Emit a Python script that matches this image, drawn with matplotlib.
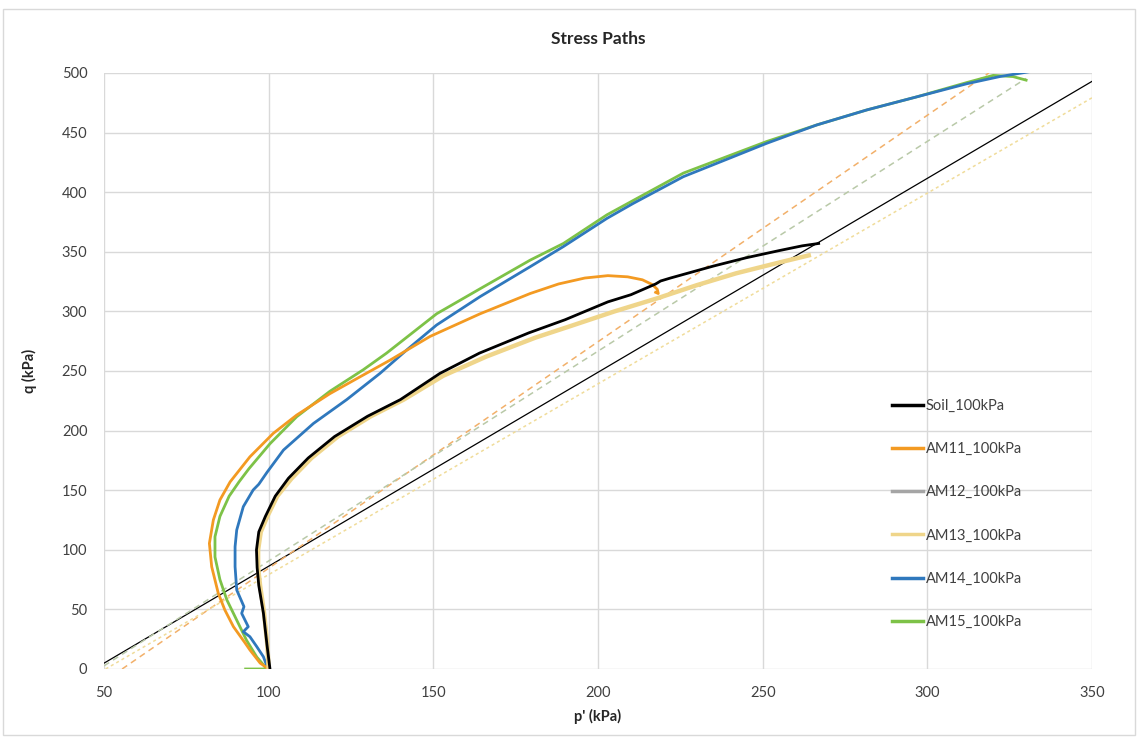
import numpy as np
import matplotlib
matplotlib.use("Agg")
import matplotlib.pyplot as plt
from matplotlib.patches import Rectangle

plt.rcParams['font.family'] = ['Lato', 'DejaVu Sans']

# stress paths: p' (kPa), q (kPa)
soil_p = [100.4, 99.5, 98.4, 97.0, 96.5, 96.3, 97.0, 99.0, 102.0, 106.0, 112.0, 120.0,
          130.0, 140.0, 152.0, 164.0, 179.0, 190.0, 203.0, 210.0, 217.5, 219.0, 222.0,
          235.0, 245.0, 255.0, 262.0, 267.0]
soil_q = [0, 20, 47, 70, 85, 100, 115, 128, 145, 160, 177, 195,
          212, 226, 248, 265, 282, 293, 308, 314, 323, 325.5, 328,
          338, 345, 351, 355, 357]

am11_p = [100.0, 97.4, 94.3, 92.8, 89.3, 86.7, 84.7, 82.7, 82.0, 83.2, 85.2, 88.3,
          94.3, 101.4, 108.5, 118.6, 128.7, 136.8, 149.0, 164.2, 179.4, 188.0, 196.0,
          203.0, 209.0, 213.5, 216.5, 218.0, 218.3, 217.5]
am11_q = [0, 5, 16, 22, 35.5, 49.5, 63.5, 85.8, 105.4, 125, 141.8, 157,
          178, 197.7, 213, 231, 246.6, 259, 279, 298, 315, 323, 328,
          330, 329, 326.5, 322.5, 318.5, 315, 316]

am12_p = []
am12_q = []

am13_p = [100.0, 99.6, 98.6, 97.4, 96.8, 96.8, 97.6, 99.6, 102.6, 107.0, 113.0, 121.0,
          131.0, 141.0, 153.0, 166.0, 181.0, 192.0, 205.0, 218.0, 230.0, 242.0, 255.0, 264.0]
am13_q = [0, 20, 47, 70, 85, 100, 115, 128, 145, 160, 177, 195,
          212, 226, 246, 262, 278, 288, 300, 311, 322, 332, 341, 347]

am14_p = [99.8, 98.4, 96.4, 94.3, 92.3, 93.8, 91.8, 92.5, 90.3, 89.8, 89.8, 90.3, 92.3,
          95.3, 97.0, 99.5, 104.5, 113.6, 123.7, 133.8, 141.9, 151.0, 164.2, 179.4,
          189.5, 202.7, 210.7, 225.9, 241.1, 251.2, 266.4, 281.6, 296.8, 312.0, 322.0, 333.0]
am14_q = [0, 10.3, 18.7, 27.1, 31.3, 35.5, 46.7, 52.3, 66.3, 85.8, 102.6, 116.6, 136.2,
          150.2, 155, 165, 183.7, 206, 226, 248, 267.6, 288.6, 312.4, 337.5,
          354.4, 378, 390.6, 413, 429.8, 441, 456.4, 469, 480, 491, 497, 502]

am15_p = [93.0, 99.5, 96.4, 93.3, 90.3, 87.3, 85.2, 83.7, 83.7, 85.2, 88.0, 91.0, 94.0,
          100.4, 108.5, 118.6, 128.7, 135.8, 151.0, 164.2, 179.4, 189.5, 202.7, 225.9,
          251.2, 266.4, 281.6, 296.8, 312.0, 320.0, 326.0, 330.0]
am15_q = [0, 0, 10, 24, 41, 58, 75, 94, 111, 128, 145, 157, 168,
          189, 211.6, 233, 251, 265, 298, 319, 343, 357, 381, 416,
          442.5, 456.4, 469, 480, 492, 498, 497, 494]

# critical state lines: q = M (p - p0)
csl_p = [50, 350]
csl_soil = [1.627 * (p - 47.0) for p in csl_p]
csl_am11_p = [55.5, 318.7]
csl_am11 = [1.90 * (p - 55.5) for p in csl_am11_p]
csl_am15_p = [50, 330]
csl_am15 = [1.76 * (p - 48.5) for p in csl_am15_p]
csl_am13_p = [50.5, 350]
csl_am13 = [1.60 * (p - 50.5) for p in csl_am13_p]

fig = plt.figure(figsize=(11.38, 7.44), dpi=100)
ax = fig.add_axes([104 / 1138, 1 - 669 / 744, 988 / 1138, 596 / 744])

fig.add_artist(Rectangle((3 / 1138, 9 / 744), 1132 / 1138, 726 / 744,
                         transform=fig.transFigure, fill=False,
                         edgecolor='#D9D9D9', linewidth=1))

ax.plot(csl_p, csl_soil, color='black', lw=0.9, zorder=2)
ax.plot(csl_am11_p, csl_am11, color='#F2B06A', lw=1.1, ls=(0, (4, 3)), zorder=2)
ax.plot(csl_am15_p, csl_am15, color='#B9C9A8', lw=1.1, ls=(0, (4, 3)), zorder=2)
ax.plot(csl_am13_p, csl_am13, color='#F0DC9A', lw=1.1, ls=(0, (2, 2)), zorder=2)

ax.plot(am15_p, am15_q, color='#7DC247', lw=2.0, label='AM15_100kPa', zorder=3)
ax.plot(am14_p, am14_q, color='#2F78BD', lw=2.0, label='AM14_100kPa', zorder=4)
ax.plot(am11_p, am11_q, color='#F39A22', lw=2.0, label='AM11_100kPa', zorder=5)
ax.plot(am12_p, am12_q, color='#A5A5A5', lw=2.0, label='AM12_100kPa', zorder=5)
ax.plot(am13_p, am13_q, color='#EFD58A', lw=3.2, label='AM13_100kPa', zorder=5)
ax.plot(soil_p, soil_q, color='black', lw=2.0, label='Soil_100kPa', zorder=6)

ax.set_xlim(50, 350)
ax.set_ylim(0, 500)
ax.set_xticks(np.arange(50, 351, 50))
ax.set_yticks(np.arange(0, 501, 50))
ax.grid(True, color='#D9D9D9', lw=1)
ax.set_axisbelow(True)
for s in ax.spines.values():
    s.set_visible(False)
ax.tick_params(length=0, labelsize=10.5, colors='#404040', pad=12)

ax.set_title('Stress Paths', fontsize=12.5, fontweight='bold', color='#262626', pad=21)
ax.set_xlabel("p' (kPa)", fontsize=10.5, fontweight='bold', color='#262626', labelpad=7)
ax.set_ylabel('q (kPa)', fontsize=10.5, fontweight='bold', color='#262626', labelpad=18)

handles, labels = ax.get_legend_handles_labels()
order = ['Soil_100kPa', 'AM11_100kPa', 'AM12_100kPa', 'AM13_100kPa', 'AM14_100kPa', 'AM15_100kPa']
hmap = dict(zip(labels, handles))
leg = ax.legend([hmap[k] for k in order], order, loc='upper left',
                bbox_to_anchor=((892 - 104) / 988, (669 - 399) / 596),
                frameon=False, borderpad=0, borderaxespad=0,
                handlelength=2.1, handletextpad=0.2, labelspacing=2.0, fontsize=10.5)
for t in leg.get_texts():
    t.set_color('#404040')
for h in leg.legend_handles:
    h.set_linewidth(2.5)

fig.savefig('out.png', dpi=100)
